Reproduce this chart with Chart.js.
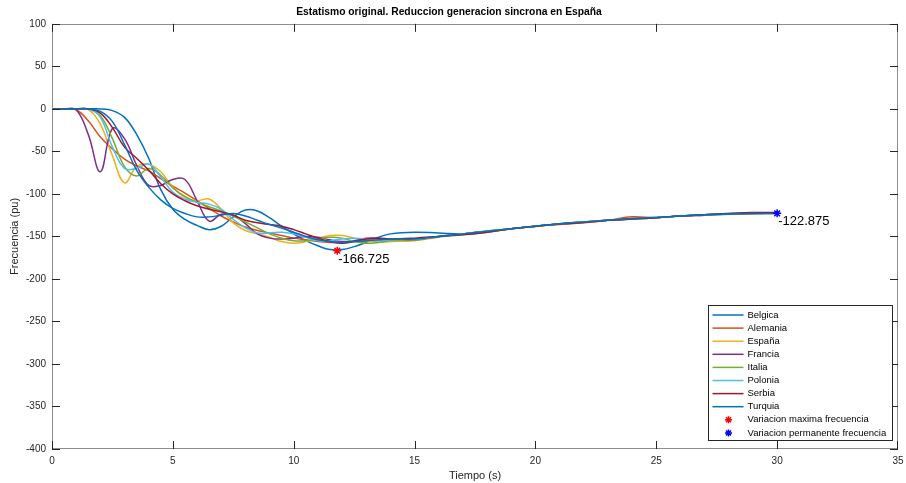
<!DOCTYPE html>
<html>
<head>
<meta charset="utf-8">
<script src="https://cdn.jsdelivr.net/npm/chart.js@4.4.0/dist/chart.umd.min.js"></script>
<style>
  html, body { margin: 0; padding: 0; background: #fff; }
</style>
</head>
<body>
<canvas id="chart" width="906" height="483"></canvas>
<script>
// time axis (s): every 0.5 s up to 14 s, then every second
var times = [0,0.5,1,1.5,2,2.5,3,3.5,4,4.5,5,5.5,6,6.5,7,7.5,8,8.5,9,9.5,10,10.5,11,11.5,12,12.5,13,13.5,14,
  15,16,17,18,19,20,21,22,23,24,25,26,27,28,29,30];

var belgica  = [0,0,0,0,0,-2,-10,-30,-58,-95,-118,-130,-137,-142,-138,-127,-119,-120,-128,-138,-147,-155,-161,-165.5,-165.5,-162,-157,-151,-147,
  -145,-146,-147,-145,-141,-138,-135,-133,-131,-129,-128,-126,-125,-124,-123,-122.9];
var alemania = [0,0,-1,-14,-33,-47,-59,-67,-73,-82,-91,-99,-108,-117,-126,-133,-139,-143,-146,-149,-152,-154,-156,-157,-157,-156,-156,-155,-154,
  -153,-150,-147,-144,-141,-138,-136,-134,-131,-127,-128,-126,-125,-123.5,-123,-122.5];
var espana   = [0,0,0,-1,-18,-55,-87,-68,-65,-74,-92,-104,-108,-106,-118,-134,-143,-147,-151,-156,-158,-156,-152,-149,-149,-152,-155,-157,-156,
  -155,-151,-148,-145,-141,-138.5,-135.5,-133,-131,-129.5,-128,-126,-124.5,-123.5,-123,-122.8];
var francia  = [0,0,-1,-30,-74,-23,-35,-66,-90,-90,-83,-83,-108,-132,-124,-125,-135,-147,-152,-153,-152,-150,-151,-154,-156,-155,-152,-152,-154,
  -154,-150,-147,-144,-141,-138,-135.5,-133,-131,-129.5,-128,-126,-124.5,-123.5,-123,-122.8];
var italia   = [0,0,0,0,-8,-35,-68,-79,-70,-78,-93,-103,-110,-115,-120,-126,-133,-140,-147,-152,-155,-155,-153,-151,-152,-156,-158,-157,-155,
  -154,-150,-147,-143.5,-141,-138,-135.5,-133,-131,-129.5,-128,-126,-124.5,-123.5,-123,-122.8];
var polonia  = [0,0,0,0,-10,-45,-70,-70,-65,-80,-98,-106,-110,-112,-118,-130,-140,-146,-146,-145,-147,-151,-155,-155,-153,-152,-153,-155,-154,
  -153,-150,-147,-144,-141,-138,-135.5,-133,-131,-129.5,-128,-126,-124.5,-123,-122.5,-122.5];
var serbia   = [0,0,0,0,-5,-22,-45,-58,-72,-88,-100,-108,-114,-118,-121,-125,-131,-134,-136,-138,-142,-147,-152,-156,-158,-156,-153,-152,-153,
  -152,-150,-148,-145,-141,-138,-135.5,-133.5,-131,-129.5,-128,-126,-124.5,-123,-122,-122];
var turquia  = [0,0,0,0,-3,-15,-42,-72,-92,-107,-117,-123,-127,-127,-125,-123,-126,-131,-136,-140,-145,-150,-154,-156,-157,-156,-155,-154,-153,
  -153,-150,-147,-144,-141,-138,-135,-133,-131,-129,-127.5,-126,-124.5,-123.5,-123,-122.9];

var names  = ['Belgica','Alemania','España','Francia','Italia','Polonia','Serbia','Turquia'];
var series = [belgica, alemania, espana, francia, italia, polonia, serbia, turquia];
var colors = ['#0072BD','#D95319','#EDB120','#7E2F8E','#77AC30','#4DBEEE','#A2142F','#0072BD'];

// marked points
var maxVar  = {t: 11.8, v: -166.725};
var permVar = {t: 30, v: -122.875};

var xTicks = [0,5,10,15,20,25,30,35];
var yTicks = [100,50,0,-50,-100,-150,-200,-250,-300,-350,-400];

Chart.defaults.font.family = "'Liberation Sans', Arial, sans-serif";
Chart.defaults.color = '#262626';

var datasets = [];
for (var i = 0; i < series.length; i++) {
  var pts = [];
  for (var k = 0; k < times.length; k++) {
    pts.push({x: times[k], y: series[i][k]});
  }
  datasets.push({
    type: 'line',
    label: names[i],
    data: pts,
    borderColor: colors[i],
    backgroundColor: colors[i],
    borderWidth: 1.5,
    pointRadius: 0,
    tension: 0.4,
    fill: false,
    order: 10 - i
  });
}
datasets.push({
  type: 'scatter',
  label: 'Variacion maxima frecuencia',
  data: [{x: maxVar.t, y: maxVar.v}],
  pointStyle: 'star',
  pointRadius: 4,
  borderColor: '#FF0000',
  backgroundColor: '#FF0000',
  pointBorderWidth: 1.5,
  order: 0,
  tag: String(maxVar.v)
});
datasets.push({
  type: 'scatter',
  label: 'Variacion permanente frecuencia',
  data: [{x: permVar.t, y: permVar.v}],
  pointStyle: 'star',
  pointRadius: 4,
  borderColor: '#0000FF',
  backgroundColor: '#0000FF',
  pointBorderWidth: 1.5,
  order: 0,
  tag: String(permVar.v)
});

// box, inward ticks, point labels and legend, matlab style
var matlabLook = {
  id: 'matlabLook',
  afterDatasetsDraw: function(chart) {
    var ctx = chart.ctx, a = chart.chartArea;
    var xs = chart.scales.x, ys = chart.scales.y;
    ctx.save();
    ctx.lineWidth = 1;
    ctx.strokeStyle = '#8c8c8c';
    ctx.strokeRect(Math.round(a.left) + 0.5, Math.round(a.top) + 0.5,
      Math.round(a.right - a.left) - 1, Math.round(a.bottom - a.top) - 1);
    ctx.strokeStyle = '#262626';
    ctx.beginPath();
    xs.ticks.forEach(function(t) {
      var px = Math.round(xs.getPixelForValue(t.value)) + 0.5;
      if (px > a.right) px -= 1;
      ctx.moveTo(px, a.bottom); ctx.lineTo(px, a.bottom - 8);
      ctx.moveTo(px, a.top); ctx.lineTo(px, a.top + 8);
    });
    ys.ticks.forEach(function(t) {
      var py = Math.round(ys.getPixelForValue(t.value)) + 0.5;
      ctx.moveTo(a.left, py); ctx.lineTo(a.left + 8, py);
      ctx.moveTo(a.right, py); ctx.lineTo(a.right - 8, py);
    });
    ctx.stroke();

    // value labels next to the marked points
    ctx.fillStyle = '#000';
    ctx.font = "13px 'Liberation Sans', Arial, sans-serif";
    ctx.textBaseline = 'top';
    ctx.textAlign = 'left';
    chart.data.datasets.forEach(function(ds, i) {
      if (!ds.tag) return;
      var el = chart.getDatasetMeta(i).data[0];
      ctx.fillText(ds.tag, el.x + 1, el.y + 2);
    });

    // legend box
    var items = chart.data.datasets;
    var w = 184, rowH = 13.1, h = 135;
    var lx = Math.round(a.right - 6 - w) + 0.5, ly = Math.round(a.bottom - 9 - h) + 0.5;
    ctx.fillStyle = '#fff';
    ctx.fillRect(lx, ly, w, h);
    ctx.strokeStyle = '#262626';
    ctx.lineWidth = 1;
    ctx.strokeRect(lx, ly, w, h);
    ctx.font = "9.5px 'Liberation Sans', Arial, sans-serif";
    ctx.textBaseline = 'middle';
    items.forEach(function(ds, i) {
      var cy = ly + 9.5 + i * rowH;
      ctx.strokeStyle = ds.borderColor;
      ctx.fillStyle = ds.borderColor;
      ctx.lineWidth = 1.5;
      if (ds.type === 'line') {
        ctx.beginPath();
        ctx.moveTo(lx + 4, cy); ctx.lineTo(lx + 35, cy);
        ctx.stroke();
      } else {
        Chart.helpers.drawPoint(ctx, {pointStyle: 'star', radius: 3.5, borderWidth: 1.5}, lx + 20, cy);
      }
      ctx.fillStyle = '#000';
      ctx.fillText(ds.label, lx + 39, cy);
    });
    ctx.restore();
  }
};

new Chart(document.getElementById('chart'), {
  data: {datasets: datasets},
  options: {
    responsive: false,
    animation: false,
    layout: {padding: {left: 0, right: 8, top: 0, bottom: 0}},
    scales: {
      x: {
        type: 'linear',
        min: 0, max: 35,
        afterBuildTicks: function(s) { s.ticks = xTicks.map(function(v) { return {value: v}; }); },
        afterFit: function(s) { s.height = 34; s.paddingLeft = 0; s.paddingRight = 0; },
        grid: {display: false, drawTicks: false},
        border: {display: false},
        ticks: {font: {size: 10}, color: '#262626', padding: 6, maxRotation: 0},
        title: {display: true, text: 'Tiempo (s)', font: {size: 11}, color: '#262626', padding: {top: 0, bottom: 0}}
      },
      y: {
        type: 'linear',
        min: -400, max: 100,
        afterBuildTicks: function(s) { s.ticks = yTicks.map(function(v) { return {value: v}; }); },
        afterFit: function(s) { s.width = 52; s.paddingTop = 0; s.paddingBottom = 0; },
        grid: {display: false, drawTicks: false},
        border: {display: false},
        ticks: {font: {size: 10}, color: '#262626', padding: 6},
        title: {display: true, text: 'Frecuencia (pu)', font: {size: 11}, color: '#262626', padding: {top: 8, bottom: 0}}
      }
    },
    plugins: {
      legend: {display: false},
      tooltip: {enabled: false},
      title: {
        display: true,
        text: 'Estatismo original. Reduccion generacion sincrona en España',
        font: {size: 10.3, weight: 'bold'},
        color: '#000',
        padding: {top: 5.5, bottom: 6}
      }
    }
  },
  plugins: [matlabLook]
});
</script>
</body>
</html>
